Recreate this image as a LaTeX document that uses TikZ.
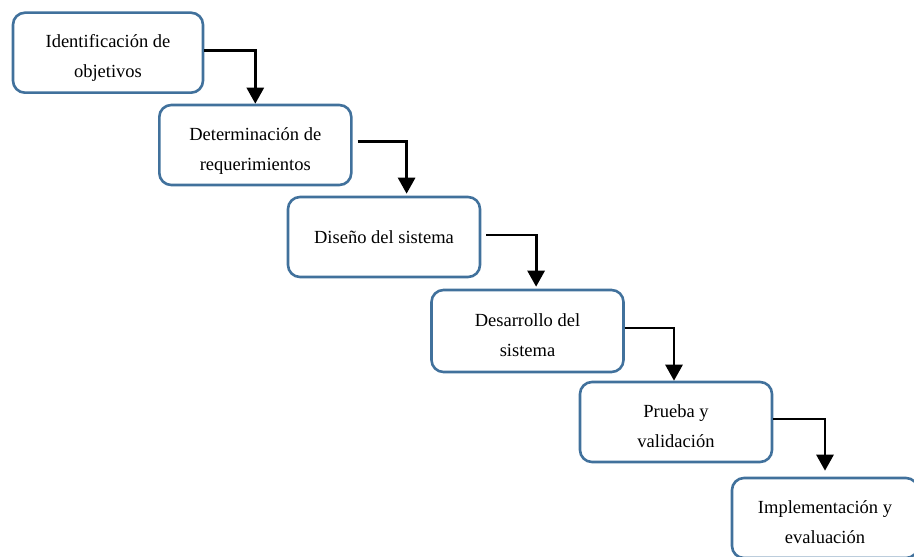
\documentclass[tikz,border=0pt]{standalone}
\usepackage{fontspec}
\setmainfont{Liberation Serif}
\usetikzlibrary{arrows.meta}
\definecolor{boxblue}{RGB}{65,113,156}

\begin{document}
\begin{tikzpicture}[x=0.5pt,y=-0.5pt,
    stage/.style={draw=boxblue, line width=1.3pt, rounded corners=6pt, align=center,
        minimum width=96pt, minimum height=40pt, inner sep=0pt,
        font=\fontsize{9.25}{15}\selectfont},
    twoline/.style={stage, text height=27pt, text depth=2pt},
    flow/.style={line width=1.4pt, -{Triangle[width=8.5pt,length=8pt]}}]
    % Page frame
    \useasboundingbox (0,0) rectangle (914,556);
    \clip (0,0) rectangle (914,556);

    % Stages
    \node[twoline, minimum width=95pt] (ident) at (108,52.7) {Identificación de\\objetivos};
    \node[twoline] (req) at (255.3,145) {Determinación de\\requerimientos};
    \node[stage] (diseno) at (384,237) {Diseño del sistema};
    \node[twoline, minimum height=41pt] (desarrollo) at (527.5,331) {Desarrollo del\\sistema};
    \node[twoline] (prueba) at (676,422) {Prueba y\\validación};
    \node[twoline, minimum width=93pt] (impl) at (825,518) {Implementación y\\evaluación};

    % Arrows between stages
    \draw[flow] ([yshift=1pt]ident.east) -| (req.north);
    \draw[flow] ([xshift=2.5pt,yshift=1.6pt]req.east) -| ([xshift=11.3pt,yshift=1pt]diseno.north);
    \draw[flow] ([xshift=2.5pt,yshift=1pt]diseno.east) -| ([xshift=4.3pt,yshift=1pt]desarrollo.north);
    \draw[flow] ([yshift=1.5pt]desarrollo.east) -| ([xshift=-1pt]prueba.north);
    \draw[flow] ([yshift=1.5pt]prueba.east) -| ([yshift=3pt]impl.north);
\end{tikzpicture}
\end{document}
